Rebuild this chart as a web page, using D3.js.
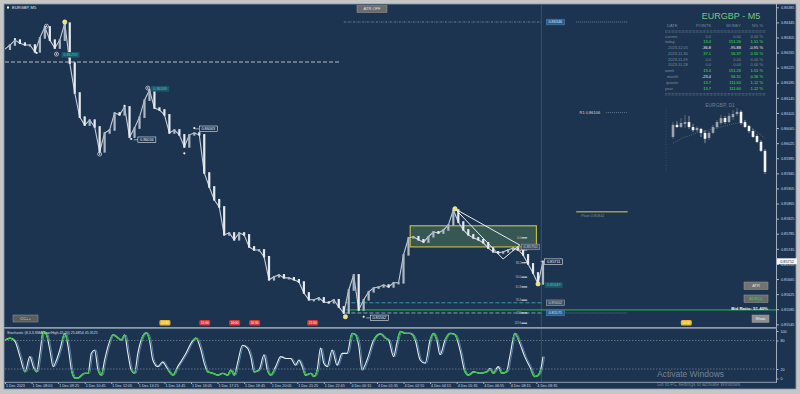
<!DOCTYPE html>
<html lang="en">
<head>
<meta charset="UTF-8">
<title>EURGBP,M5</title>
<style>
  body { margin: 0; background: #c6c6c6; }
  svg { display: block; font-family: "Liberation Sans", Arial, sans-serif; }
  .axis path { display: none; }
  .axis line { stroke: #aab6c4; }
  .axis text { fill: #cfd8e2; font-size: 3.7px; }
</style>
</head>
<body>
<div id="chart"></div>
<script src="https://cdn.jsdelivr.net/npm/d3@7"></script>
<script>
// M5 closes, one every 3 bars
let closes = [
  0.86274, 0.86285, 0.86298, 0.86290, 0.86285, 0.86285, 0.86267, 0.86304, 0.86333, 0.86298,
  0.86277, 0.86298, 0.86343, 0.86237, 0.86158, 0.86094, 0.86073, 0.86086, 0.86068, 0.86002,
  0.86052, 0.86060, 0.86105, 0.86100, 0.86121, 0.86041, 0.86065, 0.86094, 0.86139, 0.86166,
  0.86118, 0.86113, 0.86100, 0.86052, 0.86060, 0.86047, 0.86015, 0.86047, 0.86052, 0.86047,
  0.85946, 0.85909, 0.85875, 0.85856, 0.85782, 0.85787, 0.85769, 0.85787, 0.85782, 0.85750,
  0.85742, 0.85742, 0.85724, 0.85663, 0.85671, 0.85676, 0.85668, 0.85668, 0.85663, 0.85657,
  0.85628, 0.85610, 0.85610, 0.85615, 0.85604, 0.85602, 0.85610, 0.85591, 0.85575, 0.85636,
  0.85676, 0.85583, 0.85610, 0.85631, 0.85641, 0.85644, 0.85649, 0.85644, 0.85655, 0.85655,
  0.85729, 0.85774, 0.85777, 0.85769, 0.85763, 0.85777, 0.85790, 0.85787, 0.85795, 0.85808,
  0.85848, 0.85816, 0.85795, 0.85782, 0.85774, 0.85769, 0.85761, 0.85747, 0.85737, 0.85734,
  0.85737, 0.85742, 0.85747, 0.85742, 0.85729, 0.85705, 0.85681, 0.85652, 0.85712
]
let barStep = 3
let currentPrice = 0.85712

let priceTicks = [0.85545, 0.85585, 0.85625, 0.85665, 0.85705, 0.85745, 0.85785, 0.85825, 0.85865, 0.85905, 0.85945,
  0.85985, 0.86025, 0.86065, 0.86105, 0.86145, 0.86185, 0.86225, 0.86265, 0.86305, 0.86345, 0.86385]

let timeBars = [0, 16, 32, 48, 64, 80, 96, 112, 128, 144, 160, 176, 192, 208, 224, 240, 256, 272, 288, 304, 320]
let timeLabels = ['1 Dec 2023', '1 Dec 08:05', '1 Dec 09:25', '1 Dec 10:45', '1 Dec 12:05', '1 Dec 13:25', '1 Dec 14:45',
  '1 Dec 16:05', '1 Dec 17:25', '1 Dec 18:45', '1 Dec 20:05', '1 Dec 21:25', '1 Dec 22:45', '4 Dec 00:15', '4 Dec 01:35',
  '4 Dec 02:55', '4 Dec 04:15', '4 Dec 05:35', '4 Dec 06:55', '4 Dec 08:15', '4 Dec 09:35']

// stochastic main line
let stochBar = [0,3,6,9,12,15,17,19,21,23,25,27,29,31,33,36,38,40,42,44,46,48,50,52,54,56,58,60,62,65,68,70,72,74,76,78,80,82,85,87,
  89,92,95,97,99,101,104,109,112,115,118,120,122,125,128,131,134,136,138,140,143,146,148,150,153,156,158,160,163,166,169,172,175,177,
  179,181,184,186,188,190,192,194,197,200,203,206,209,211,213,215,218,222,226,229,231,234,236,238,241,244,247,250,253,256,258,260,262,
  265,268,271,274,277,279,282,286,290,292,294,297,299,302,304,307,310,313,316,319,321,323,324]
let stochVal = [81,85,78,46,14,46,25,14,53,99,92,60,25,39,60,95,67,18,1,1,7,11,11,53,60,18,7,39,67,92,85,81,92,53,18,11,53,81,96,81,
  39,25,35,25,14,7,25,53,74,85,60,32,14,11,7,11,7,18,7,32,70,64,46,14,18,50,18,7,25,46,42,42,28,39,25,7,11,4,18,64,32,25,60,28,53,53,
  95,92,70,18,39,81,94,85,81,46,75,99,95,95,81,39,32,81,95,81,50,81,95,92,60,14,7,14,11,14,21,11,25,11,14,46,95,74,46,25,4,7,25,46]

// account table
let rowLabels = ['current', 'today', '2023.12.01', '2023.11.30', '2023.11.29', '2023.11.28', 'week', 'month', 'quarter', 'year']
let rowIndent = [0, 0, 3, 3, 3, 3, 0, 2, 1, 0]
let rowPoints = [0.0, 13.4, -36.8, 37.1, 0.0, 0.0, 13.4, -23.4, 13.7, 13.7]
let rowMoney = [0.00, 151.26, -95.88, 56.37, 0.00, 0.00, 151.26, 56.31, 111.60, 111.60]
let rowPct = [0.00, 1.51, -0.95, 0.55, 0.00, 0.00, 1.51, 0.56, 1.12, 1.12]

// D1 mini chart
let d1Open = [0.8683,0.8722,0.8715,0.8725,0.8731,0.8715,0.8705,0.8709,0.8696,0.8680,0.8696,0.8715,0.8728,0.8744,0.8731,0.8747,0.8757,0.8764,0.8731,0.8718,0.8702,0.8686,0.8667,0.8638]
let d1Close = [0.8722,0.8715,0.8728,0.8731,0.8715,0.8705,0.8712,0.8696,0.8677,0.8696,0.8715,0.8731,0.8744,0.8731,0.8751,0.8757,0.8764,0.8728,0.8715,0.8702,0.8683,0.8667,0.8638,0.8570]
let d1High = [0.8731,0.8734,0.8744,0.8754,0.8751,0.8725,0.8718,0.8712,0.8705,0.8702,0.8722,0.8738,0.8754,0.8751,0.8760,0.8770,0.8776,0.8770,0.8738,0.8722,0.8709,0.8692,0.8673,0.8644]
let d1Low = [0.8677,0.8712,0.8712,0.8712,0.8709,0.8699,0.8699,0.8683,0.8663,0.8673,0.8692,0.8709,0.8722,0.8725,0.8728,0.8738,0.8751,0.8722,0.8712,0.8696,0.8680,0.8663,0.8634,0.8563]
let d1Ma = [0.8663,0.8670,0.8677,0.8683,0.8686,0.8692,0.8696,0.8699,0.8702,0.8705,0.8709,0.8712,0.8715,0.8718,0.8722,0.8725,0.8728,0.8728,0.8725,0.8718,0.8709,0.8699,0.8689,0.8677]

// swing markers on price
let markBar = [36, 205, 271, 321, 25, 31, 57, 86, 6, 19, 72, 76, 108, 114, 216]
let markPrice = [0.86346, 0.85565, 0.85851, 0.85652, 0.86335, 0.86261, 0.85996, 0.86171, 0.86301, 0.86264, 0.86124, 0.86036, 0.85998, 0.86065, 0.85565]
let markType = ['star', 'star', 'star', 'star', 'ring', 'ring', 'ring', 'ring', 'dot', 'dot', 'dot', 'dot', 'dot', 'dot', 'dot']

// price labels
let labelBar = [34, 88, 80, 117, 220, 325, 325, 311, 326, 326, 326]
let labelPrice = [0.86259, 0.86169, 0.86034, 0.86063, 0.85562, 0.85711, 0.85649, 0.85750, 0.85602, 0.85575, 0.86346]
let labelStyle = ['teal', 'teal', 'white', 'white', 'white', 'white', 'teal', 'grey', 'grey', 'blue', 'blue']

// fibo levels
let fiboPrice = [0.85774, 0.85742, 0.85708, 0.85670, 0.85644, 0.85609, 0.85575, 0.85548]
let fiboText = ['0.0', '23.6', '38.2', '50.0', '61.8', '76.4', '100', '123.6']

// session tags
let tagBar = [96, 120, 138, 150, 185, 410]
let tagText = ['14:30', '15:00', '16:00', '16:30', '21:30', '10:00']
let tagColor = ['#e8b830', '#d83838', '#d83838', '#d83838', '#d83838', '#e8b830']

let svg = d3.select('#chart').append('svg').attr('width', 800).attr('height', 394)

// scales
let x = d3.scaleLinear().domain([0, 324]).range([5, 543])
let y = d3.scaleLinear().domain([0.85545, 0.86385]).range([324.3, 7.3])
let yS = d3.scaleLinear().domain([0, 100]).range([378.5, 331])

// frame
svg.append('rect').attr('width', 800).attr('height', 394).attr('fill', '#c6c6c6')
svg.append('rect').attr('x', 4).attr('y', 4).attr('width', 792).attr('height', 385)
  .attr('fill', '#1c3450').attr('stroke', '#8d99a8').attr('stroke-width', 0.8)

let defs = svg.append('defs')
defs.append('clipPath').attr('id', 'mainClip').append('rect').attr('x', 5).attr('y', 5).attr('width', 771).attr('height', 322)
let zone = defs.append('clipPath').attr('id', 'zoneClip')
zone.append('rect').attr('x', 5).attr('y', 328).attr('width', 771).attr('height', yS(80) - 328)
zone.append('rect').attr('x', 5).attr('y', yS(20)).attr('width', 771).attr('height', 382 - yS(20))

let plot = svg.append('g').attr('clip-path', 'url(#mainClip)')

// current bar vertical line
svg.append('line').attr('x1', x(323)).attr('x2', x(323)).attr('y1', 5).attr('y2', 382)
  .attr('stroke', 'rgba(110,170,160,0.35)').attr('stroke-width', 0.8)

// levels
function level(price, b0, b1, color, dash, w) {
  plot.append('line').attr('x1', x(b0)).attr('x2', x(b1)).attr('y1', y(price)).attr('y2', y(price))
    .attr('stroke', color).attr('stroke-width', w || 1).attr('stroke-dasharray', dash || null)
}
level(0.86240, 0, 202, '#b4bcc6', '4,2', 1)
level(0.86346, 204, 323, '#8fa0b0', '2,1,0.6,1', 0.7)
level(0.86346, 344, 375, '#8fa0b0', '1,1', 0.7)
level(0.86106, 362, 375, '#8fa0b0', '1,1', 0.6)
level(0.85843, 344, 375, '#e6d43a', null, 1)
level(0.85602, 205, 323, '#3cb4c4', '4,2', 0.8)
level(0.85583, 205, 465, '#21a544', null, 1.2)
level(0.85575, 205, 323, '#b8ccd8', '4,2', 0.7)
level(0.85575, 328, 375, '#8fa0b0', '1,1', 0.6)

plot.append('text').attr('x', x(346)).attr('y', y(0.86106) + 1.3).attr('fill', '#d4dae0').attr('font-size', 4).text('R1 0.86106')
plot.append('text').attr('x', x(347)).attr('y', y(0.85843) + 5).attr('fill', '#7d8b9a').attr('font-size', 3.8).text('Pivot 0.85842')

// consolidation box
plot.append('rect').attr('x', x(244)).attr('y', y(0.85806)).attr('width', x(320) - x(244)).attr('height', y(0.8575) - y(0.85806))
  .attr('fill', '#3f6356').attr('fill-opacity', 0.75).attr('stroke', '#dccf3c').attr('stroke-width', 1)

// price: line + bodies
plot.append('path').datum(closes)
  .attr('d', d3.line().x((d, i) => x(i * barStep)).y(d => y(d)))
  .attr('fill', 'none').attr('stroke', '#c6ced6').attr('stroke-width', 1.1)
closes.forEach((c, i) => {
  if (i === 0) return
  let o = closes[i - 1]
  let top = y(Math.max(o, c)), bot = y(Math.min(o, c))
  plot.append('rect').attr('x', x(i * barStep) - 1.1).attr('y', top - 0.8).attr('width', 2.2)
    .attr('height', Math.max(bot - top, 0.8) + 1.6).attr('fill', c >= o ? '#aeb8c3' : '#e6eaee')
})

// zigzag
let zz = [[271, 0.85851], [300, 0.85718], [310, 0.85755], [271, 0.85851]]
plot.append('path').datum(zz).attr('d', d3.line().x(d => x(d[0])).y(d => y(d[1])))
  .attr('fill', 'none').attr('stroke', '#e8ecf0').attr('stroke-width', 1)
plot.append('circle').attr('cx', x(310)).attr('cy', y(0.85740)).attr('r', 1.2).attr('fill', '#e07090')

// fibo ticks
fiboPrice.forEach((p, i) => {
  plot.append('line').attr('x1', x(311)).attr('x2', x(314.5)).attr('y1', y(p)).attr('y2', y(p)).attr('stroke', '#f0f0f0').attr('stroke-width', 1)
  plot.append('text').attr('x', x(311) - 0.5).attr('y', y(p) + 0.9).attr('text-anchor', 'end')
    .attr('fill', '#c0c8d0').attr('font-size', 2.6).text(fiboText[i])
})

// markers
markBar.forEach((b, i) => {
  let cx = x(b), cy = y(markPrice[i])
  if (markType[i] === 'star') {
    plot.append('circle').attr('cx', cx).attr('cy', cy).attr('r', 2.2).attr('fill', '#ece47a').attr('stroke', '#f8f4c0').attr('stroke-width', 0.5)
  } else if (markType[i] === 'ring') {
    plot.append('circle').attr('cx', cx).attr('cy', cy).attr('r', 2).attr('fill', 'none').attr('stroke', '#dde2e8').attr('stroke-width', 0.7)
    plot.append('circle').attr('cx', cx).attr('cy', cy).attr('r', 0.8).attr('fill', '#dde2e8')
  } else {
    plot.append('circle').attr('cx', cx).attr('cy', cy).attr('r', 1.1).attr('fill', '#f0f2f4')
  }
})

// price labels
let lstyle = {
  teal: { fill: '#1e5866', stroke: 'none', text: '#3fc0d0' },
  white: { fill: '#1c3450', stroke: '#e4e8ec', text: '#eef0f2' },
  grey: { fill: '#3f5062', stroke: '#98a6b4', text: '#c8d0d8' },
  blue: { fill: '#2b5d8c', stroke: '#4a80b0', text: '#cfe4f4' }
}
labelBar.forEach((b, i) => {
  let s = lstyle[labelStyle[i]]
  let lx = x(b), ly = y(labelPrice[i])
  if (labelStyle[i] === 'white') {
    svg.append('line').attr('x1', lx - 4).attr('x2', lx).attr('y1', ly).attr('y2', ly).attr('stroke', '#e4e8ec').attr('stroke-width', 0.6)
  }
  svg.append('rect').attr('x', lx).attr('y', ly - 2.8).attr('width', 18).attr('height', 5.6)
    .attr('fill', s.fill).attr('stroke', s.stroke).attr('stroke-width', 0.6)
  svg.append('text').attr('x', lx + 9).attr('y', ly + 1.3).attr('text-anchor', 'middle')
    .attr('fill', s.text).attr('font-size', 3.8).text(labelPrice[i].toFixed(5))
})

// session tags
tagBar.forEach((b, i) => {
  svg.append('rect').attr('x', x(b) - 5).attr('y', 320).attr('width', 11).attr('height', 5.5).attr('rx', 1.5)
    .attr('fill', tagColor[i])
  svg.append('text').attr('x', x(b) + 0.5).attr('y', 324.1).attr('text-anchor', 'middle')
    .attr('fill', '#fff').attr('font-size', 3.2).text(tagText[i])
})

// buttons
function button(bx, by, w, h, fill, label, color) {
  svg.append('rect').attr('x', bx).attr('y', by).attr('width', w).attr('height', h).attr('fill', fill).attr('stroke', '#9a9a9a').attr('stroke-width', 0.5)
  svg.append('text').attr('x', bx + w / 2).attr('y', by + h / 2 + 1.4).attr('text-anchor', 'middle').attr('fill', color).attr('font-size', 4).text(label)
}
button(357, 5.5, 30, 7, '#6c6c6c', 'ATR OFF', '#e0e0e0')
button(13, 315, 25, 7, '#5c5c5c', 'CC++', '#d8d8d8')
button(744, 282, 24, 7.5, '#727272', 'ATR', '#e4e4e4')
button(744, 295, 24, 7.5, '#6a6a6a', 'ADR(1)', '#42d042')
button(752, 315, 17, 7.5, '#8e8e8e', 'Show', '#f0f0f0')

svg.append('text').attr('x', 768).attr('y', 310).attr('text-anchor', 'end').attr('fill', '#eceff2')
  .attr('font-size', 4.4).attr('font-weight', 'bold').text('Bid Ratio: 51.40%')

// chart title
svg.append('rect').attr('x', 7).attr('y', 6.5).attr('width', 2).attr('height', 2).attr('fill', '#fff')
svg.append('text').attr('x', 12).attr('y', 9.3).attr('fill', '#e8ecf0').attr('font-size', 4).text('EURGBP, M5')

// account table
let tx = 665
svg.append('text').attr('x', 731).attr('y', 19).attr('text-anchor', 'middle').attr('fill', '#7cc47c').attr('font-size', 9).text('EURGBP - M5')
let hdr = [['DATE', 667, 'start'], ['POINTS', 711, 'end'], ['MONEY', 741, 'end'], ['N% %', 763, 'end']]
hdr.forEach(h => svg.append('text').attr('x', h[1]).attr('y', 26.5).attr('text-anchor', h[2]).attr('fill', '#7f8d9c').attr('font-size', 4).text(h[0]))
;[30.8, 32.2, 93.6, 95].forEach(ly => svg.append('line').attr('x1', tx).attr('x2', 766).attr('y1', ly).attr('y2', ly)
  .attr('stroke', '#8c98a6').attr('stroke-width', 0.5).attr('stroke-dasharray', '0.8,0.6'))
let rowY = d3.scalePoint().domain(rowLabels).range([37.6, 89.6])
let valColor = v => v > 0 ? '#3ee03e' : (v < 0 ? '#f0f0f0' : '#7d8b99')
rowLabels.forEach((r, i) => {
  let ry = rowY(r)
  svg.append('text').attr('x', tx + rowIndent[i]).attr('y', ry).attr('fill', '#7f8d9c').attr('font-size', 4).text(r)
  svg.append('text').attr('x', 711).attr('y', ry).attr('text-anchor', 'end').attr('fill', valColor(rowPoints[i])).attr('font-size', 4).text(rowPoints[i].toFixed(1))
  svg.append('text').attr('x', 741).attr('y', ry).attr('text-anchor', 'end').attr('fill', valColor(rowMoney[i])).attr('font-size', 4).text(rowMoney[i].toFixed(2))
  svg.append('text').attr('x', 763).attr('y', ry).attr('text-anchor', 'end').attr('fill', valColor(rowPct[i])).attr('font-size', 4).text(rowPct[i].toFixed(2) + ' %')
})

// D1 mini chart
let xD = d3.scaleLinear().domain([0, d1Open.length - 1]).range([673, 765])
let yD = d3.scaleLinear().domain([0.8570, 0.8770]).range([171.9, 110])
svg.append('text').attr('x', 720).attr('y', 107).attr('text-anchor', 'middle').attr('fill', '#6f7e8e').attr('font-size', 5).text('EURGBP, D1')
svg.append('line').attr('x1', 666).attr('x2', 666).attr('y1', 108).attr('y2', 172).attr('stroke', '#6a7a8c').attr('stroke-width', 0.6).attr('stroke-dasharray', '0.6,2')
svg.append('path').datum(d1Ma).attr('d', d3.line().x((d, i) => xD(i)).y(d => yD(d)))
  .attr('fill', 'none').attr('stroke', '#b9c29a').attr('stroke-width', 0.6).attr('stroke-dasharray', '0.6,1.6')
d1Open.forEach((o, i) => {
  let c = d1Close[i], bull = c >= o
  let col = bull ? '#9ca3aa' : '#f4f5f6'
  svg.append('line').attr('x1', xD(i)).attr('x2', xD(i)).attr('y1', yD(d1High[i])).attr('y2', yD(d1Low[i])).attr('stroke', col).attr('stroke-width', 0.5)
  svg.append('rect').attr('x', xD(i) - 1.3).attr('y', yD(Math.max(o, c))).attr('width', 2.6)
    .attr('height', Math.max(Math.abs(yD(o) - yD(c)), 0.8)).attr('fill', col)
})

// panel separators
svg.append('line').attr('x1', 776.5).attr('x2', 776.5).attr('y1', 4).attr('y2', 382.5).attr('stroke', '#a0acba').attr('stroke-width', 1)
svg.append('line').attr('x1', 4).attr('x2', 777).attr('y1', 327.8).attr('y2', 327.8).attr('stroke', '#8e9bab').attr('stroke-width', 1.8)
svg.append('line').attr('x1', 4).attr('x2', 777).attr('y1', 382.3).attr('y2', 382.3).attr('stroke', '#a0acba').attr('stroke-width', 0.9)

// price axis
svg.append('g').attr('class', 'axis').attr('transform', 'translate(776.5,0)')
  .call(d3.axisRight(y).tickValues(priceTicks).tickSize(2.5).tickPadding(2).tickFormat(d3.format('.5f')))
let cy = y(currentPrice)
svg.append('rect').attr('x', 777).attr('y', cy - 3).attr('width', 20).attr('height', 6).attr('fill', '#f4f4f4')
svg.append('text').attr('x', 787).attr('y', cy + 1.4).attr('text-anchor', 'middle').attr('fill', '#1c3450').attr('font-size', 3.8).text(currentPrice.toFixed(5))

// stochastic panel
;[80, 20].forEach(v => svg.append('line').attr('x1', 5).attr('x2', 776).attr('y1', yS(v)).attr('y2', yS(v))
  .attr('stroke', '#8c9aaa').attr('stroke-width', 0.6).attr('stroke-dasharray', '1.5,1.5'))
let stochData = stochBar.map((b, i) => [b, stochVal[i]])
let stochLine = d3.line().x(d => x(d[0])).y(d => yS(d[1])).curve(d3.curveMonotoneX)
svg.append('path').datum(stochData).attr('d', stochLine).attr('fill', 'none').attr('stroke', '#7fb4dc').attr('stroke-width', 0.6)
  .attr('transform', 'translate(1.5,0)')
svg.append('path').datum(stochData).attr('d', stochLine).attr('fill', 'none').attr('stroke', '#e6eef4').attr('stroke-width', 1.1)
svg.append('path').datum(stochData).attr('d', stochLine).attr('fill', 'none').attr('stroke', '#33cc33').attr('stroke-width', 1.3)
  .attr('clip-path', 'url(#zoneClip)')
svg.append('text').attr('x', 7).attr('y', 334).attr('fill', '#d8dee4').attr('font-size', 3.6)
  .text('Stochastic (8,3,3,SMA,Low/High,45,20) 25.6854 45.3125')
svg.append('g').attr('class', 'axis').attr('transform', 'translate(776.5,0)')
  .call(d3.axisRight(yS).tickValues([0, 20, 80, 100]).tickSize(2).tickPadding(2))

// time axis
let tAxis = svg.append('g').attr('class', 'axis').attr('transform', 'translate(0,382.5)')
  .call(d3.axisBottom(x).tickValues(timeBars).tickSize(1.5).tickPadding(0.5).tickFormat((d, i) => timeLabels[i]))
tAxis.selectAll('text').attr('text-anchor', 'start').attr('dx', 0.5)

// watermark
svg.append('text').attr('x', 657).attr('y', 377).attr('fill', 'rgba(205,210,215,0.5)').attr('font-size', 8.5).text('Activate Windows')
svg.append('text').attr('x', 657).attr('y', 385.5).attr('fill', 'rgba(205,210,215,0.5)').attr('font-size', 4.9).text('Go to PC settings to activate Windows.')
</script>
</body>
</html>
